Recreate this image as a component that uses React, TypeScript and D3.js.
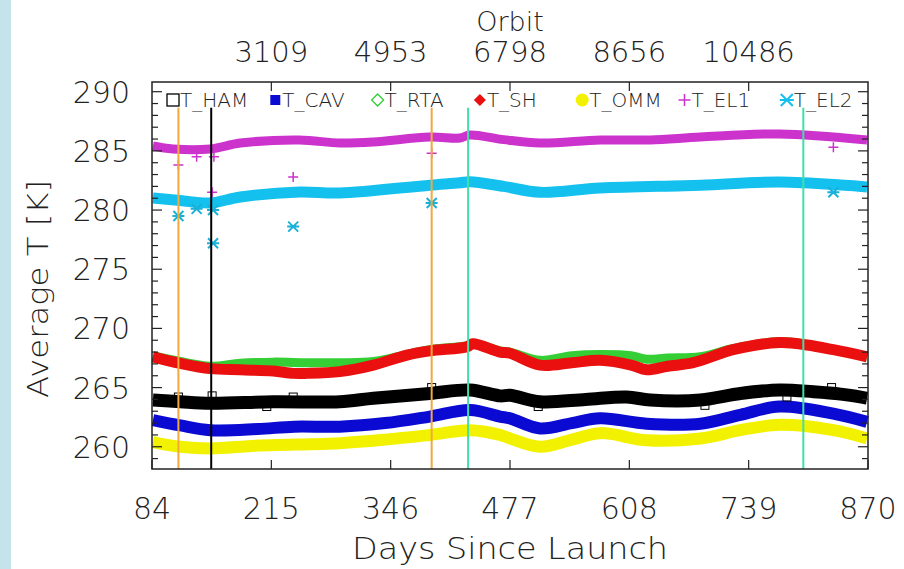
import React from 'react';
import * as d3 from 'd3';

const W = 904;
const H = 569;

const dayTicks = [84, 215, 346, 477, 608, 739, 870];
const orbitTickDays = [215, 346, 477, 608, 739];
const orbitLabels = ['3109', '4953', '6798', '8656', '10486'];
const yMajor = [260, 265, 270, 275, 280, 285, 290];

// T_HAM (black)
const hamDays = [85, 115, 148, 217, 290, 327, 389, 433, 466, 477, 510, 560, 605, 631, 686, 730, 773, 810, 840, 869];
const hamT = [263.95, 263.8, 263.67, 263.8, 263.8, 264.1, 264.5, 264.8, 264.3, 264.35, 263.8, 264.0, 264.2, 263.95, 263.95, 264.5, 264.8, 264.65, 264.45, 264.1];
// T_CAV (blue)
const cavDays = [85, 115, 148, 200, 240, 290, 340, 389, 433, 466, 477, 510, 545, 576, 627, 686, 730, 773, 832, 869];
const cavT = [262.25, 261.8, 261.4, 261.5, 261.7, 261.7, 262.0, 262.55, 263.1, 262.55, 262.4, 261.55, 262.0, 262.4, 261.95, 261.95, 262.7, 263.4, 262.8, 262.1];
// T_RTA (green)
const rtaDays = [85, 115, 148, 181, 217, 254, 290, 327, 364, 389, 430, 436, 466, 477, 510, 545, 576, 610, 627, 650, 686, 722, 773, 803, 832, 869];
const rtaT = [267.7, 267.2, 266.8, 267.05, 267.15, 267.1, 267.1, 267.2, 267.8, 268.2, 268.55, 268.75, 268.1, 268.0, 267.3, 267.7, 267.8, 267.7, 267.4, 267.5, 267.6, 268.3, 268.9, 268.65, 268.2, 267.6];
// T_SH (red)
const shDays = [85, 115, 148, 181, 217, 239, 254, 290, 327, 364, 389, 430, 436, 466, 477, 510, 545, 576, 610, 627, 650, 678, 722, 773, 803, 832, 869];
const shT = [267.6, 267.05, 266.6, 266.5, 266.4, 266.2, 266.2, 266.35, 266.9, 267.75, 268.1, 268.45, 268.7, 268.0, 267.9, 266.9, 267.1, 267.3, 266.9, 266.5, 266.8, 267.1, 268.2, 268.8, 268.6, 268.2, 267.6];
// T_OMM (yellow)
const ommDays = [85, 115, 148, 200, 290, 340, 389, 433, 466, 477, 510, 545, 576, 627, 686, 730, 773, 832, 869];
const ommT = [260.4, 260.0, 259.85, 260.1, 260.3, 260.6, 261.0, 261.4, 261.0, 260.7, 260.0, 260.6, 261.15, 260.55, 260.7, 261.4, 261.85, 261.4, 260.7];
// T_EL1 (magenta)
const el1Days = [85, 107, 148, 181, 246, 290, 327, 389, 422, 433, 470, 510, 576, 631, 686, 773, 869];
const el1T = [285.41, 285.16, 285.16, 285.66, 285.92, 285.66, 285.75, 286.17, 286.09, 286.34, 285.95, 285.66, 285.92, 285.92, 286.17, 286.43, 285.92];
// T_EL2 (cyan)
const el2Days = [85, 115, 148, 181, 246, 290, 389, 422, 433, 470, 510, 576, 686, 773, 869];
const el2T = [281.02, 280.8, 280.6, 281.1, 281.52, 281.44, 282.1, 282.3, 282.4, 282.0, 281.5, 281.86, 282.1, 282.37, 281.95];

// isolated samples
const hamPtDays = [113, 150, 210, 239, 391, 508, 691, 781, 830];
const hamPtT = [264.2, 264.3, 263.4, 264.2, 265.0, 263.4, 263.5, 264.2, 265.0];
const el1PtDays = [113, 133, 152, 150, 239, 391, 832];
const el1PtT = [283.8, 284.5, 284.5, 281.5, 282.8, 284.8, 285.3];
const el2PtDays = [113, 133, 151, 151, 239, 391, 832];
const el2PtT = [279.5, 280.1, 280.0, 277.2, 278.6, 280.6, 281.5];

// event lines
const eventDays = [113, 149, 391, 431, 799];
const eventColors = ['#f2a93b', '#000000', '#f2a93b', '#3fe0a8', '#3fe0a8'];

const legendNames = ['T_HAM', 'T_CAV', 'T_RTA', 'T_SH', 'T_OMM', 'T_EL1', 'T_EL2'];
const legendColors = ['#000000', '#0a0ad2', '#35cf35', '#ea1010', '#f2f200', '#cc33cc', '#14c0ee'];

const FONT = '"DejaVu Sans", sans-serif';

export default function App() {
  const x = d3.scaleLinear().domain([84, 870]).range([152, 868]);
  const y = d3.scaleLinear().domain([258.12, 290.82]).range([469, 82]);
  const line = d3.line<[number, number]>().x(d => x(d[0])).y(d => y(d[1])).curve(d3.curveCatmullRom);

  const bands = [
    { days: hamDays, t: hamT, color: legendColors[0], w: 13 },
    { days: cavDays, t: cavT, color: legendColors[1], w: 12 },
    { days: rtaDays, t: rtaT, color: legendColors[2], w: 9 },
    { days: shDays, t: shT, color: legendColors[3], w: 11 },
    { days: ommDays, t: ommT, color: legendColors[4], w: 12 },
    { days: el1Days, t: el1T, color: legendColors[5], w: 9 },
    { days: el2Days, t: el2T, color: legendColors[6], w: 11 },
  ];

  const minor = d3.range(259, 291, 1);

  const legendSymbol = (i: number, cx: number, cy: number) => {
    const c = legendColors[i];
    switch (i) {
      case 0: return <rect x={cx - 6} y={cy - 6} width={12} height={12} fill="none" stroke={c} strokeWidth={1.3} />;
      case 1: return <rect x={cx - 5} y={cy - 5} width={10} height={10} fill={c} />;
      case 2: return <path d={`M${cx},${cy - 6}L${cx + 6},${cy}L${cx},${cy + 6}L${cx - 6},${cy}Z`} fill="none" stroke={c} strokeWidth={1.3} />;
      case 3: return <path d={`M${cx},${cy - 6}L${cx + 6},${cy}L${cx},${cy + 6}L${cx - 6},${cy}Z`} fill={c} />;
      case 4: return <circle cx={cx} cy={cy} r={6.5} fill={c} />;
      case 5: return <path d={`M${cx - 6},${cy}H${cx + 6}M${cx},${cy - 6}V${cy + 6}`} stroke={c} strokeWidth={1.5} />;
      default: return <path d={`M${cx - 6},${cy - 6}L${cx + 6},${cy + 6}M${cx - 6},${cy + 6}L${cx + 6},${cy - 6}M${cx - 7},${cy}H${cx + 7}`} stroke={c} strokeWidth={2} />;
    }
  };

  return (
    <svg width={W} height={H} style={{ position: 'absolute', left: 0, top: 0, background: '#fff' }}>
      <rect x={0} y={0} width={W} height={H} fill="#fff" />
      <rect x={0} y={0} width={11} height={H} fill="#c4e3ea" />

      {/* bands */}
      {bands.map((b, i) => (
        <path key={i} d={line(b.days.map((d, j) => [d, b.t[j]] as [number, number])) || ''}
          fill="none" stroke={b.color} strokeWidth={b.w} strokeLinejoin="round" strokeLinecap="butt" />
      ))}

      {/* isolated points */}
      {hamPtDays.map((d, i) => (
        <rect key={'h' + i} x={x(d) - 4} y={y(hamPtT[i]) - 4} width={8} height={8} fill="none" stroke="#000" strokeWidth={1} />
      ))}
      {el1PtDays.map((d, i) => {
        const cx = x(d), cy = y(el1PtT[i]);
        return <path key={'p' + i} d={`M${cx - 5},${cy}H${cx + 5}M${cx},${cy - 5}V${cy + 5}`} stroke={legendColors[5]} strokeWidth={1.5} />;
      })}
      {el2PtDays.map((d, i) => {
        const cx = x(d), cy = y(el2PtT[i]);
        return <path key={'a' + i} d={`M${cx - 5},${cy - 5}L${cx + 5},${cy + 5}M${cx - 5},${cy + 5}L${cx + 5},${cy - 5}M${cx - 6},${cy}H${cx + 6}`} stroke="#1ab0d8" strokeWidth={2} />;
      })}

      {/* event lines */}
      {eventDays.map((d, i) => (
        <line key={'e' + i} x1={x(d)} x2={x(d)} y1={y(288.65)} y2={469} stroke={eventColors[i]} strokeWidth={2} />
      ))}

      {/* frame */}
      <rect x={152} y={82} width={716} height={387} fill="none" stroke="#222" strokeWidth={1.5} />

      {/* y ticks */}
      {minor.map(v => {
        const len = v % 5 === 0 ? 10 : 6;
        return (
          <g key={'yt' + v}>
            <line x1={152} x2={152 + len} y1={y(v)} y2={y(v)} stroke="#222" strokeWidth={1.2} />
            <line x1={868} x2={868 - len} y1={y(v)} y2={y(v)} stroke="#222" strokeWidth={1.2} />
          </g>
        );
      })}
      {yMajor.map(v => (
        <text key={'yl' + v} x={130} y={y(v) + 11} textAnchor="end" fontFamily={FONT} fontWeight={200} fontSize={30} fill="#222">{v}</text>
      ))}

      {/* x ticks */}
      {dayTicks.map(d => (
        <g key={'xt' + d}>
          <line x1={x(d)} x2={x(d)} y1={469} y2={460} stroke="#222" strokeWidth={1.2} />
          <text x={x(d)} y={519} textAnchor="middle" fontFamily={FONT} fontWeight={200} fontSize={30} fill="#222">{d}</text>
        </g>
      ))}
      {orbitTickDays.map((d, i) => (
        <g key={'ot' + d}>
          <line x1={x(d)} x2={x(d)} y1={82} y2={91} stroke="#222" strokeWidth={1.2} />
          <text x={x(d)} y={62} textAnchor="middle" fontFamily={FONT} fontWeight={200} fontSize={29} fill="#222">{orbitLabels[i]}</text>
        </g>
      ))}

      {/* titles */}
      <text x={510} y={31} textAnchor="middle" fontFamily={FONT} fontWeight={200} fontSize={27} fill="#222">Orbit</text>
      <text x={510} y={559} textAnchor="middle" fontFamily={FONT} fontWeight={200} fontSize={30} fill="#222" textLength={316} lengthAdjust="spacingAndGlyphs">Days Since Launch</text>
      <text transform="translate(48,289) rotate(-90)" textAnchor="middle" fontFamily={FONT} fontWeight={200} fontSize={28} fill="#222" textLength={218} lengthAdjust="spacingAndGlyphs">Average T [K]</text>

      {/* legend */}
      {legendNames.map((n, i) => {
        const sx = 173 + i * 102.3;
        return (
          <g key={'lg' + i}>
            {legendSymbol(i, sx, 100)}
            <text x={sx + 7} y={107} fontFamily={FONT} fontWeight={200} fontSize={20} fill="#222">{n}</text>
          </g>
        );
      })}
    </svg>
  );
}
